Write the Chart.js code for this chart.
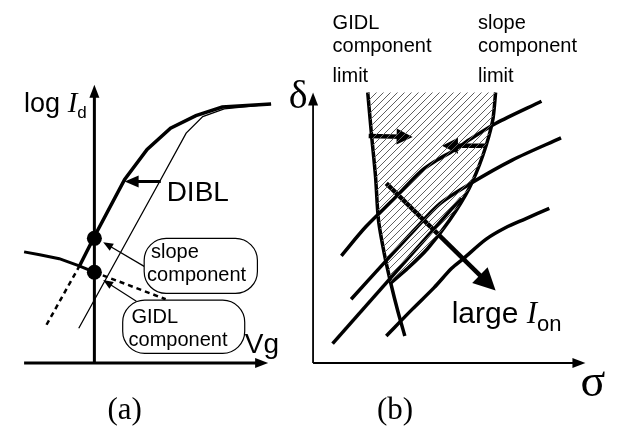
<!DOCTYPE html>
<html>
<head>
<meta charset="utf-8">
<script src="https://cdn.jsdelivr.net/npm/chart.js@4.4.0/dist/chart.umd.min.js"></script>
<style>
  html, body { margin: 0; padding: 0; background: #fff; }
  #canvasContainer { width: 631px; height: 441px; }
</style>
</head>
<body>
<div id="canvasContainer"><canvas id="myChart" width="631" height="441"></canvas></div>
<script>
// ---- panel (a): Vg vs log Id (arbitrary units, axes cross at 0,0) ----
var vgAxisX = [-7.2, 17.8];
var vgAxisY = [0, 0];
var idAxisX = [0, 0];
var idAxisY = [0, 28.8];

var shortVg = [-1.5, 0, 3.1, 5.4, 7.8, 10.4, 13.1, 18.1];
var shortLogId = [10.1, 13.1, 19.0, 22.1, 24.3, 25.6, 26.5, 26.8];
var shortTailVg = [-1.5, -5.1];
var shortTailLogId = [10.1, 3.6];
var longVg = [-1.6, 6.8, 9.4, 11.1, 13.3, 18.1];
var longLogId = [3.6, 19.0, 23.8, 25.5, 26.3, 26.8];
var gidlVg = [-7.2, -5.6, -3.6, -1.7, 0];
var gidlLogId = [11.5, 11.2, 10.8, 10.1, 9.4];
var gidlTailVg = [0, 7.3];
var gidlTailLogId = [9.4, 6.6];
var markVg = [0, 0];
var markLogId = [12.9, 9.4];

var diblArrowVg = [6.8, 3.1];
var diblArrowLogId = [18.8, 18.8];
var slopePtrVg = [5.1, 0.9];
var slopePtrLogId = [10.0, 12.5];
var gidlPtrVg = [4.3, 0.9];
var gidlPtrLogId = [6.4, 8.6];

// ---- panel (b): sigma vs delta ----
var sigmaAxisX = [0, 27.9];
var sigmaAxisY = [0, 0];
var deltaAxisX = [0, 0];
var deltaAxisY = [0, 28.0];

var gidlLimitSigma = [5.6, 6.0, 6.4, 6.7, 7.3, 8.0, 8.7, 9.4];
var gidlLimitDelta = [28.0, 23.5, 19.3, 14.8, 11.3, 8.1, 5.3, 2.8];
var slopeLimitSigma = [18.7, 18.4, 17.4, 16.0, 14.0, 11.7, 9.7, 8.0];
var slopeLimitDelta = [28.0, 25.1, 21.5, 18.1, 14.8, 11.8, 9.8, 8.3];

var c1Sigma = [2.9, 5.4, 8.4, 11.0, 12.7, 14.4, 16.0, 18.7, 23.4];
var c1Delta = [11.1, 14.1, 17.1, 19.8, 21.0, 22.0, 23.1, 24.8, 27.1];
var c2Sigma = [3.9, 7.4, 10.4, 13.0, 16.0, 20.4, 25.4];
var c2Delta = [6.6, 10.5, 13.8, 16.5, 18.5, 21.0, 23.3];
var c3Sigma = [2.0, 15.2];
var c3Delta = [2.0, 17.1];
var c4Sigma = [7.5, 10.2, 12.4, 14.2, 15.4, 17.7, 19.7, 21.7, 24.2];
var c4Delta = [2.8, 5.6, 7.8, 9.8, 10.8, 12.8, 14.0, 14.9, 16.0];

var gidlPushSigma = [5.7, 10.2];
var gidlPushDelta = [23.5, 23.4];
var slopePushSigma = [17.7, 13.2];
var slopePushDelta = [22.5, 22.5];
var ionSigma = [7.5, 18.7];
var ionDelta = [18.6, 7.5];

var sans = '"Liberation Sans", Arial, sans-serif';
var serif = '"Liberation Serif", "Times New Roman", serif';

// text + callout boxes, anchored in panel units
var boxes = [
  { panel: 'A', x: [5.1, 16.7], y: [7.2, 12.9], r: 22 },
  { panel: 'A', x: [2.9, 15.4], y: [1.0, 6.5], r: 22 }
];
var notes = [
  { panel: 'A', x: -7.2, y: 26.0, parts: [
    { text: 'log ', font: '27px ' + sans },
    { text: 'I', font: 'italic 29px ' + serif },
    { text: 'd', font: '17px ' + sans, dy: 6 } ] },
  { panel: 'A', x: 7.4, y: 16.8, parts: [{ text: 'DIBL', font: '28px ' + sans }] },
  { panel: 'A', x: 15.4, y: 1.0, parts: [{ text: 'Vg', font: '28px ' + sans }] },
  { panel: 'A', x: 5.8, y: 10.9, parts: [{ text: 'slope', font: '20px ' + sans }] },
  { panel: 'A', x: 5.4, y: 8.5, parts: [{ text: 'component', font: '20px ' + sans }] },
  { panel: 'A', x: 3.8, y: 4.1, parts: [{ text: 'GIDL', font: '20px ' + sans }] },
  { panel: 'A', x: 3.5, y: 1.8, parts: [{ text: 'component', font: '20px ' + sans }] },
  { panel: 'A', x: 3.1, y: -5.8, center: true, parts: [{ text: '(a)', font: '31px ' + serif }] },

  { panel: 'B', x: 2.0, y: 34.6, parts: [{ text: 'GIDL', font: '20px ' + sans }] },
  { panel: 'B', x: 2.0, y: 32.2, parts: [{ text: 'component', font: '20px ' + sans }] },
  { panel: 'B', x: 2.0, y: 29.1, parts: [{ text: 'limit', font: '20px ' + sans }] },
  { panel: 'B', x: 16.9, y: 34.6, parts: [{ text: 'slope', font: '20px ' + sans }] },
  { panel: 'B', x: 16.9, y: 32.2, parts: [{ text: 'component', font: '20px ' + sans }] },
  { panel: 'B', x: 16.9, y: 29.1, parts: [{ text: 'limit', font: '20px ' + sans }] },
  { panel: 'B', x: -2.5, y: 26.4, parts: [{ text: '\u03B4', font: '40px ' + serif }] },
  { panel: 'B', x: 27.4, y: -3.4, parts: [{ text: '\u03C3', font: '46px ' + serif }] },
  { panel: 'B', x: 14.2, y: 4.1, parts: [
    { text: 'large ', font: '30px ' + sans },
    { text: 'I', font: 'italic 31px ' + serif },
    { text: 'on', font: '22px ' + sans, dy: 8 } ] },
  { panel: 'B', x: 8.4, y: -5.8, center: true, parts: [{ text: '(b)', font: '31px ' + serif }] }
];

function pts(xs, ys) {
  return xs.map(function (x, i) { return { x: x, y: ys[i] }; });
}

function hatchPattern(ctx) {
  var s = 7;
  var tile = document.createElement('canvas');
  tile.width = s;
  tile.height = s;
  var g = tile.getContext('2d');
  g.strokeStyle = '#606060';
  g.lineWidth = 1;
  g.beginPath();
  g.moveTo(0, s); g.lineTo(s, 0);
  g.moveTo(-1, 1); g.lineTo(1, -1);
  g.moveTo(s - 1, s + 1); g.lineTo(s + 1, s - 1);
  g.stroke();
  return ctx.createPattern(tile, 'repeat');
}

function line(xs, ys, panel, width, extra) {
  var ds = {
    data: pts(xs, ys),
    xAxisID: 'x' + panel,
    yAxisID: 'y' + panel,
    showLine: true,
    borderColor: '#000',
    borderWidth: width,
    pointRadius: 0,
    fill: false,
    tension: 0
  };
  for (var k in extra) ds[k] = extra[k];
  return ds;
}

// geometry of an arrow head at the last point of a dataset
function headGeom(meta, head) {
  var p = meta.data;
  var t = p[p.length - 1], s = p[p.length - 2];
  var dx = t.x - s.x, dy = t.y - s.y;
  var L = Math.sqrt(dx * dx + dy * dy) || 1;
  var ux = dx / L, uy = dy / L;
  return { tx: t.x, ty: t.y, ux: ux, uy: uy, nx: -uy, ny: ux,
           bx: t.x - ux * head.len, by: t.y - uy * head.len };
}

var arrowPlugin = {
  id: 'arrowHeads',
  beforeDatasetDraw: function (chart, args) {
    var ds = chart.data.datasets[args.index];
    if (!ds.head) return;
    var g = headGeom(args.meta, ds.head);
    var ctx = chart.ctx;
    var w = ds.borderWidth + 2;
    var bx = g.bx + g.ux, by = g.by + g.uy;
    var ex = g.tx + g.ux * 4, ey = g.ty + g.uy * 4;
    // keep the shaft out of the head so the tip stays sharp
    ctx.save();
    ctx.beginPath();
    ctx.rect(0, 0, chart.width, chart.height);
    ctx.moveTo(bx + g.nx * w, by + g.ny * w);
    ctx.lineTo(ex + g.nx * w, ey + g.ny * w);
    ctx.lineTo(ex - g.nx * w, ey - g.ny * w);
    ctx.lineTo(bx - g.nx * w, by - g.ny * w);
    ctx.closePath();
    ctx.clip('evenodd');
  },
  afterDatasetDraw: function (chart, args) {
    var ds = chart.data.datasets[args.index];
    if (!ds.head) return;
    var ctx = chart.ctx;
    ctx.restore();
    var g = headGeom(args.meta, ds.head);
    var h = ds.head.half;
    ctx.save();
    ctx.fillStyle = '#000';
    ctx.beginPath();
    ctx.moveTo(g.tx, g.ty);
    ctx.lineTo(g.bx + g.nx * h, g.by + g.ny * h);
    ctx.lineTo(g.bx - g.nx * h, g.by - g.ny * h);
    ctx.closePath();
    ctx.fill();
    ctx.restore();
  }
};

var notesPlugin = {
  id: 'sketchNotes',
  afterDatasetsDraw: function (chart) {
    var ctx = chart.ctx;
    function px(panel, v) { return chart.scales['x' + panel].getPixelForValue(v); }
    function py(panel, v) { return chart.scales['y' + panel].getPixelForValue(v); }
    ctx.save();
    boxes.forEach(function (b) {
      var x0 = px(b.panel, b.x[0]), x1 = px(b.panel, b.x[1]);
      var y0 = py(b.panel, b.y[1]), y1 = py(b.panel, b.y[0]);
      ctx.beginPath();
      ctx.roundRect(x0, y0, x1 - x0, y1 - y0, b.r);
      ctx.fillStyle = '#fff';
      ctx.fill();
      ctx.lineWidth = 1.2;
      ctx.strokeStyle = '#000';
      ctx.stroke();
    });
    ctx.fillStyle = '#000';
    ctx.textBaseline = 'alphabetic';
    ctx.textAlign = 'left';
    notes.forEach(function (n) {
      var x = px(n.panel, n.x), y = py(n.panel, n.y);
      if (n.center) {
        var total = 0;
        n.parts.forEach(function (p) { ctx.font = p.font; total += ctx.measureText(p.text).width; });
        x -= total / 2;
      }
      n.parts.forEach(function (p) {
        ctx.font = p.font;
        ctx.fillText(p.text, x, y + (p.dy || 0));
        x += ctx.measureText(p.text).width;
      });
    });
    ctx.restore();
  }
};

var canvas = document.getElementById('myChart');
var ctx = canvas.getContext('2d');

// hatched window between the two limits
var windowSigma = gidlLimitSigma.slice(0, 6).concat(slopeLimitSigma.slice().reverse());
var windowDelta = gidlLimitDelta.slice(0, 6).concat(slopeLimitDelta.slice().reverse());

var datasets = [
  // panel (a)
  line(idAxisX, idAxisY, 'A', 3, { head: { len: 13, half: 5 } }),
  line(vgAxisX, vgAxisY, 'A', 3, { head: { len: 13, half: 5 } }),
  line(longVg, longLogId, 'A', 1.3),
  line(shortVg, shortLogId, 'A', 3.5),
  line(shortTailVg, shortTailLogId, 'A', 2.5, { borderDash: [5, 4] }),
  line(gidlVg, gidlLogId, 'A', 3),
  line(gidlTailVg, gidlTailLogId, 'A', 2.5, { borderDash: [5, 4] }),
  line(diblArrowVg, diblArrowLogId, 'A', 3, { head: { len: 14, half: 6 } }),
  line(slopePtrVg, slopePtrLogId, 'A', 1.2, { head: { len: 10, half: 4 } }),
  line(gidlPtrVg, gidlPtrLogId, 'A', 1.2, { head: { len: 10, half: 4 } }),
  {
    data: pts(markVg, markLogId), xAxisID: 'xA', yAxisID: 'yA',
    showLine: false, pointRadius: 7.5, pointBorderWidth: 0,
    pointBackgroundColor: '#000', pointBorderColor: '#000'
  },
  // panel (b)
  line(windowSigma, windowDelta, 'B', 0, { fill: 'shape', backgroundColor: hatchPattern(ctx), tension: 0.25 }),
  line(deltaAxisX, deltaAxisY, 'B', 1.8, { head: { len: 13, half: 5 } }),
  line(sigmaAxisX, sigmaAxisY, 'B', 1.8, { head: { len: 13, half: 5 } }),
  line(gidlLimitSigma, gidlLimitDelta, 'B', 3.5, { tension: 0.25 }),
  line(slopeLimitSigma, slopeLimitDelta, 'B', 3.5, { tension: 0.25 }),
  line(c1Sigma, c1Delta, 'B', 3.5, { tension: 0.3 }),
  line(c2Sigma, c2Delta, 'B', 3.5, { tension: 0.3 }),
  line(c3Sigma, c3Delta, 'B', 3.5),
  line(c4Sigma, c4Delta, 'B', 3.5, { tension: 0.3 }),
  line(gidlPushSigma, gidlPushDelta, 'B', 4.5, { head: { len: 16, half: 8 } }),
  line(slopePushSigma, slopePushDelta, 'B', 4.5, { head: { len: 16, half: 8 } }),
  line(ionSigma, ionDelta, 'B', 4.5, { head: { len: 22, half: 11 } })
];

var myChart = new Chart(ctx, {
  type: 'scatter',
  data: { datasets: datasets },
  options: {
    responsive: false,
    animation: false,
    devicePixelRatio: 1,
    layout: { padding: 0 },
    plugins: {
      legend: { display: false },
      tooltip: { enabled: false }
    },
    scales: {
      // 10 px per unit; (a) origin at (89,368), (b) origin at (313,368)
      xA: { type: 'linear', axis: 'x', display: false, bounds: 'data', min: -8.9, max: 54.2 },
      yA: { type: 'linear', axis: 'y', display: false, bounds: 'data', min: -7.3, max: 36.8 },
      xB: { type: 'linear', axis: 'x', display: false, bounds: 'data', min: -31.3, max: 31.8 },
      yB: { type: 'linear', axis: 'y', display: false, bounds: 'data', min: -7.3, max: 36.8 }
    }
  },
  plugins: [arrowPlugin, notesPlugin]
});
</script>
</body>
</html>
